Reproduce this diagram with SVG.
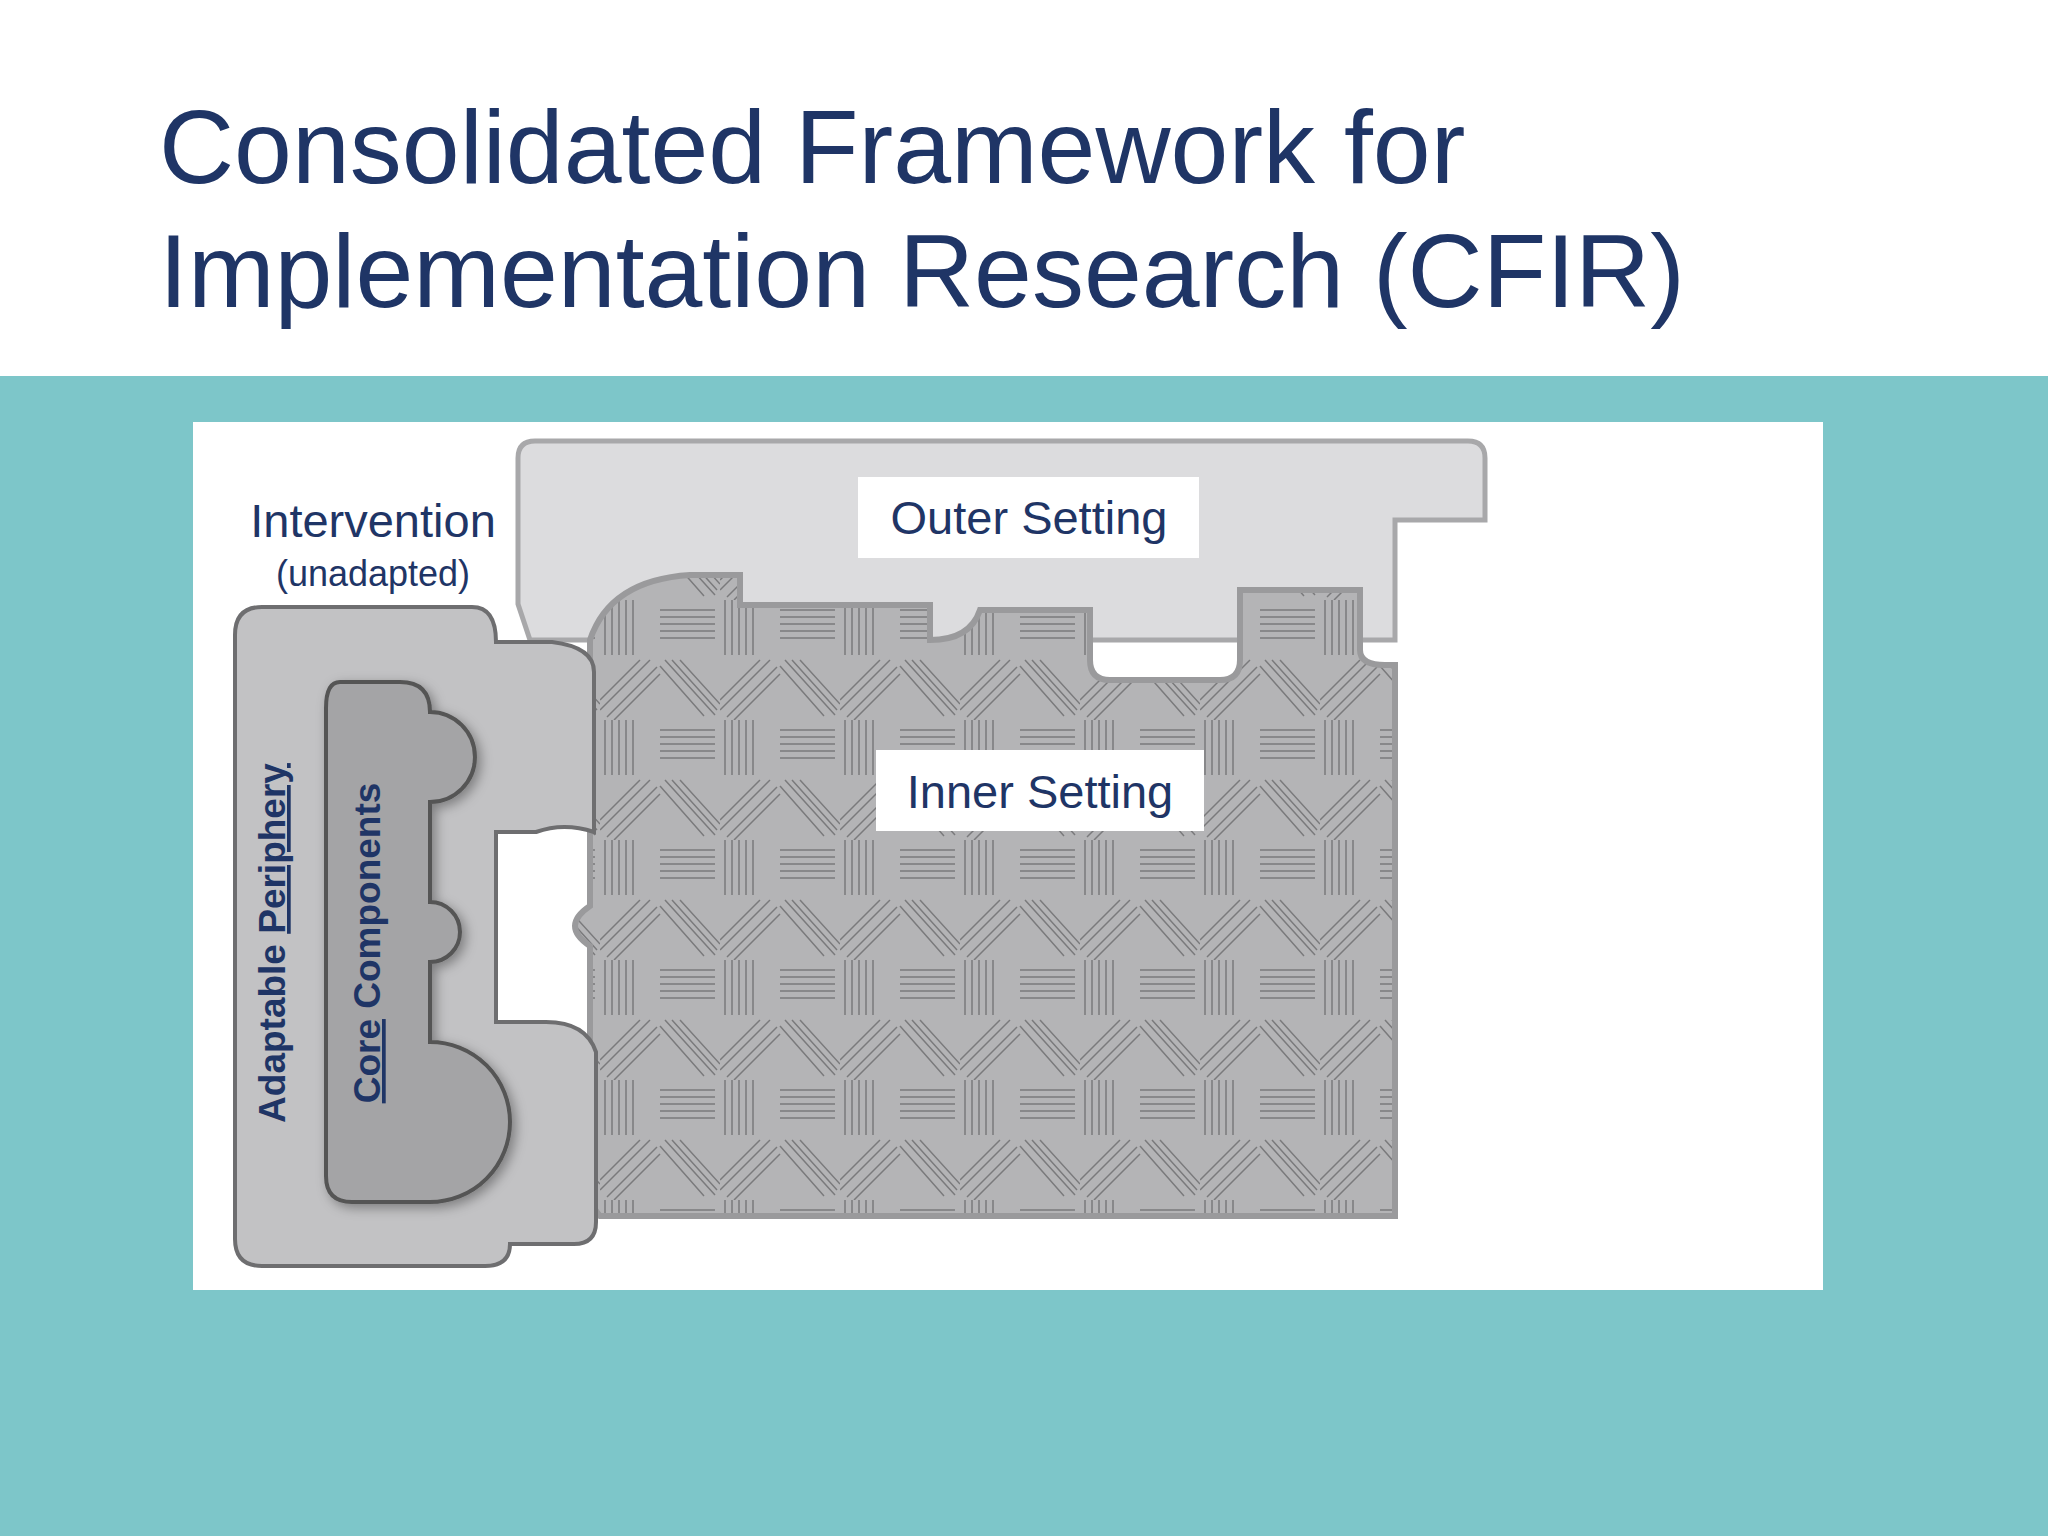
<svg xmlns="http://www.w3.org/2000/svg" width="2048" height="1536" viewBox="0 0 2048 1536">
<style>
.t{font-family:"Liberation Sans",Arial,sans-serif;fill:#1F3566}
.lbl{fill:#fff}
</style>
<defs>
<pattern id="hatch" width="120" height="120" patternUnits="userSpaceOnUse">
<rect width="120" height="120" fill="#B4B4B6"/>
<g stroke="#7A7A7C" stroke-width="1.5">
<path d="M5 0v55M12 0v55M19 0v55M26 0v55M33 0v55"/>
<path d="M60 10h55M60 17h55M60 24h55M60 31h55M60 38h55"/>
<path d="M0 110l50-50M7 117l50-50M14 120l46-46M0 100l40-40"/>
<path d="M65 60l50 55M72 60l45 50M80 60l40 44M60 66l44 50"/>
</g>
</pattern>
<filter id="sh" x="-20%" y="-20%" width="140%" height="140%"><feDropShadow dx="4" dy="4" stdDeviation="6" flood-opacity="0.35"/></filter>
</defs>
<rect width="2048" height="1536" fill="#fff"/>
<rect y="376" width="2048" height="1160" fill="#7DC6C9"/>
<rect x="193" y="422" width="1630" height="868" fill="#fff"/>
<text class="t" x="159" y="183" font-size="104">Consolidated Framework for</text>
<text class="t" x="159" y="307" font-size="104">Implementation Research (CFIR)</text>
<g id="outer">
<path d="M518 604V458q0-17 17-17h933q17 0 17 17v62h-90v120H530z" fill="#DCDCDE" stroke="#A8A8AA" stroke-width="5"/>
<rect x="858" y="477" width="341" height="81" fill="#fff"/>
<text class="t" x="1029" y="534" font-size="47" text-anchor="middle">Outer Setting</text>
</g>
<g id="inner">
<path d="M590 640q20-60 100-65h50v30h190v35q40 0 50-30h110v50q0 20 20 20h110q20 0 20-20v-70h120v60q0 15 25 15h10v551H600q-10-10-10-30q-30-20 0-50v-50q-30-20 0-40v-100q-30-20 0-40v-100q-30-20 0-40z" fill="url(#hatch)" stroke="#9A9A9C" stroke-width="6"/>
<rect x="876" y="750" width="328" height="81" fill="#fff"/>
<text class="t" x="1040" y="808" font-size="47" text-anchor="middle">Inner Setting</text>
</g>
<g id="intervention">
<text class="t" x="373" y="537" font-size="47" text-anchor="middle">Intervention</text>
<text class="t" x="373" y="586" font-size="36" text-anchor="middle">(unadapted)</text>
<path d="M262 607h214q20 0 20 35h60q30 10 38 30v156l-100 12h-28v-12h-50v-160h-12zM235 635q0-28 27-28" fill="none"/>
<path d="M262 607h210q24 0 24 35h56q42 5 42 30v160q-30-10-58 0h-40v190h50q40 0 50 30v170q0 22-22 22h-64q0 22-25 22H262q-27 0-27-27V635q0-28 27-28z" fill="#C2C2C4" stroke="#6E6E70" stroke-width="4"/>
<path d="M340 682h60q30 0 30 30a45 45 0 0 1 0 90v100a30 30 0 0 1 0 60v80a70 70 0 0 1 0 160H352q-26 0-26-26V708q0-26 14-26z" fill="#A4A4A6" stroke="#555" stroke-width="4" filter="url(#sh)"/>
<text class="t" transform="translate(285 943) rotate(-90)" font-size="37" font-weight="bold" text-anchor="middle">Adaptable <tspan text-decoration="underline">Periphery</tspan></text>
<text class="t" transform="translate(380 943) rotate(-90)" font-size="37" font-weight="bold" text-anchor="middle"><tspan text-decoration="underline">Core</tspan> Components</text>
</g>
<g id="connectors"/>
</svg>
